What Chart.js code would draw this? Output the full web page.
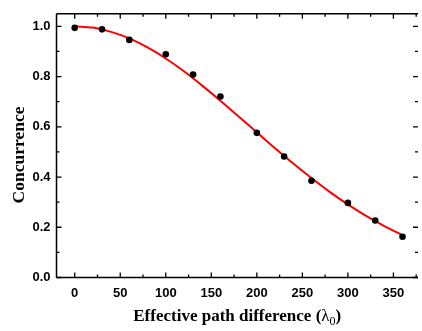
<!DOCTYPE html>
<html>
<head>
<meta charset="utf-8">
<script src="https://cdn.jsdelivr.net/npm/chart.js@4/dist/chart.umd.min.js"></script>
<style>
html,body{margin:0;padding:0;background:#fff;}
#wrap{width:422px;height:331px;position:relative;}
</style>
</head>
<body>
<div id="wrap"><canvas id="c"></canvas></div>
<script>
// Measured data points
const pathDiff = [0, 30, 60, 100, 130, 160, 200, 230, 260, 300, 330, 360];
const concurrence = [0.994, 0.988, 0.946, 0.889, 0.808, 0.721, 0.576, 0.482, 0.385, 0.297, 0.227, 0.162];
// Fitted curve
const fitX = [0, 20, 40, 60, 80, 100, 120, 140, 160, 180, 200, 220, 240, 260, 280, 300, 320, 340, 360];
const fitY = [1.000, 0.995, 0.978, 0.952, 0.916, 0.872, 0.821, 0.764, 0.704, 0.641, 0.578, 0.515, 0.454, 0.396, 0.341, 0.291, 0.245, 0.205, 0.169];
// Axis ticks
const xMajorTicks = [0, 50, 100, 150, 200, 250, 300, 350];
const xMinorTicks = [25, 75, 125, 175, 225, 275, 325, 375];
const yMajorTicks = [0.0, 0.2, 0.4, 0.6, 0.8, 1.0];
const yMinorTicks = [0.1, 0.3, 0.5, 0.7, 0.9];
// Axis titles
const xTitleMain = 'Effective path difference (';
const xTitleSymbol = 'λ';
const xTitleSub = '0';
const xTitleEnd = ')';
const yTitle = 'Concurrence';

const pts = pathDiff.map((x, i) => ({x, y: concurrence[i]}));
const fit = fitX.map((x, i) => ({x, y: fitY[i]}));

const frame = {
  id: 'frame',
  afterDatasetsDraw(chart) {
    const {ctx, chartArea: a, scales: {x, y}} = chart;
    ctx.save();
    ctx.strokeStyle = '#000';
    ctx.lineWidth = 1.5;
    ctx.beginPath();
    ctx.moveTo(a.left, a.top); ctx.lineTo(a.right, a.top);
    ctx.moveTo(a.left, a.top); ctx.lineTo(a.left, a.bottom);
    ctx.moveTo(a.left, a.bottom); ctx.lineTo(a.right, a.bottom);
    ctx.stroke();
    ctx.lineWidth = 1.3;
    ctx.beginPath();
    const tx = (v, len) => {
      const p = x.getPixelForValue(v);
      ctx.moveTo(p, a.bottom); ctx.lineTo(p, a.bottom - len);
      ctx.moveTo(p, a.top); ctx.lineTo(p, a.top + len);
    };
    const ty = (v, len) => {
      const p = y.getPixelForValue(v);
      ctx.moveTo(a.left, p); ctx.lineTo(a.left + len, p);
      ctx.moveTo(a.right, p); ctx.lineTo(a.right - len, p);
    };
    xMajorTicks.forEach(v => tx(v, 5));
    xMinorTicks.forEach(v => tx(v, 3));
    yMajorTicks.forEach(v => ty(v, 5));
    yMinorTicks.forEach(v => ty(v, 3));
    ctx.stroke();

    // Axis titles
    ctx.fillStyle = '#000';
    ctx.textBaseline = 'alphabetic';
    const fB = 'bold 17px "Liberation Serif"';
    const fN = '17px "Liberation Serif"';
    const fS = '12px "Liberation Serif"';
    ctx.font = fB; const w1 = ctx.measureText(xTitleMain).width;
    ctx.font = fN; const w2 = ctx.measureText(xTitleSymbol).width;
    ctx.font = fS; const w3 = ctx.measureText(xTitleSub).width;
    ctx.font = fB; const w4 = ctx.measureText(xTitleEnd).width;
    const total = w1 + w2 + w3 + w4;
    const cx = (a.left + a.right) / 2;
    let px = cx - total / 2;
    const base = 321;
    ctx.textAlign = 'left';
    ctx.font = fB; ctx.fillText(xTitleMain, px, base); px += w1;
    ctx.font = fN; ctx.fillText(xTitleSymbol, px, base); px += w2;
    ctx.font = fS; ctx.fillText(xTitleSub, px, base + 4); px += w3;
    ctx.font = fB; ctx.fillText(xTitleEnd, px, base);

    ctx.translate(24, 155);
    ctx.rotate(-Math.PI / 2);
    ctx.textAlign = 'center';
    ctx.font = 'bold 17.5px "Liberation Serif"';
    ctx.fillText(yTitle, 0, 0);
    ctx.restore();
  }
};

new Chart(document.getElementById('c'), {
  type: 'scatter',
  data: {
    datasets: [
      {
        label: 'data',
        data: pts,
        backgroundColor: '#000',
        borderColor: '#000',
        pointRadius: 3.3,
        pointBorderWidth: 0,
        showLine: false
      },
      {
        label: 'fit',
        data: fit,
        showLine: true,
        borderColor: '#ff0000',
        borderWidth: 2,
        pointRadius: 0,
        cubicInterpolationMode: 'monotone',
        fill: false
      }
    ]
  },
  plugins: [frame],
  options: {
    responsive: true,
    maintainAspectRatio: false,
    animation: false,
    events: [],
    layout: {padding: {left: 0, right: 0, top: 6, bottom: 0}},
    plugins: {legend: {display: false}, tooltip: {enabled: false}},
    scales: {
      x: {
        type: 'linear',
        min: -20,
        max: 377,
        afterFit: s => { s.height = 53.5; },
        grid: {display: false, drawTicks: false},
        border: {display: false},
        ticks: {
          includeBounds: false,
          stepSize: 50,
          padding: 8,
          color: '#000',
          font: {family: 'Liberation Sans', size: 13, weight: 'bold'},
          maxRotation: 0
        },
        title: {display: false}
      },
      y: {
        type: 'linear',
        min: 0,
        max: 1.05,
        afterFit: s => { s.width = 56.5; },
        grid: {display: false, drawTicks: false},
        border: {display: false},
        ticks: {
          includeBounds: false,
          stepSize: 0.2,
          padding: 6,
          color: '#000',
          font: {family: 'Liberation Sans', size: 13, weight: 'bold'},
          callback: v => Number(v).toFixed(1)
        },
        title: {display: false}
      }
    }
  }
});
</script>
</body>
</html>
